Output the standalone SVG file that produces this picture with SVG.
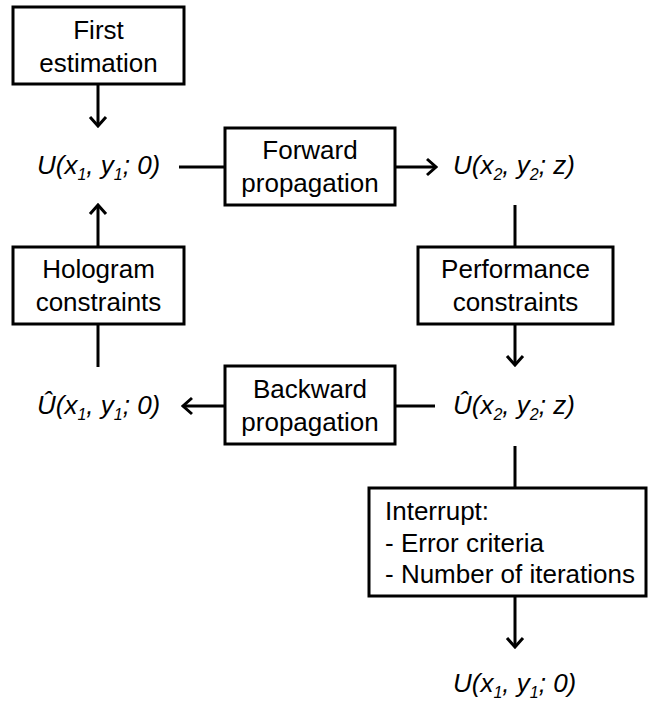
<svg xmlns="http://www.w3.org/2000/svg" width="648" height="704" viewBox="0 0 648 704">
<style>
.box{fill:#fff;stroke:#000;stroke-width:3}
.lbl{font-family:"Liberation Sans",Arial,sans-serif;font-size:26px;fill:#000;text-anchor:middle}
.lft{font-family:"Liberation Sans",Arial,sans-serif;font-size:26px;fill:#000}
.f{font-family:"Liberation Sans",Arial,sans-serif;font-size:26px;font-style:italic;fill:#000}
.s{font-size:16px}
.c{fill:none;stroke:#000;stroke-width:3}
</style>
<defs>
<marker id="ah" markerUnits="userSpaceOnUse" markerWidth="14" markerHeight="22" viewBox="-12 -11 14 22" refX="0" refY="0" orient="auto">
<path d="M-9,-8 L0,0 L-9,8" fill="none" stroke="#000" stroke-width="3"/>
</marker>
</defs>
<rect width="648" height="704" fill="#fff"/>
<g id="connectors">
<line class="c" x1="98" y1="84" x2="98" y2="126" marker-end="url(#ah)"/>
<line class="c" x1="179" y1="167" x2="225" y2="167"/>
<line class="c" x1="395" y1="167" x2="436" y2="167" marker-end="url(#ah)"/>
<line class="c" x1="515" y1="205" x2="515" y2="247"/>
<line class="c" x1="515" y1="324" x2="515" y2="365" marker-end="url(#ah)"/>
<line class="c" x1="435" y1="406" x2="395" y2="406"/>
<line class="c" x1="225" y1="406" x2="183" y2="406" marker-end="url(#ah)"/>
<line class="c" x1="98" y1="367" x2="98" y2="324"/>
<line class="c" x1="98" y1="247" x2="98" y2="205" marker-end="url(#ah)"/>
<line class="c" x1="515" y1="446" x2="515" y2="488"/>
<line class="c" x1="515" y1="596" x2="515" y2="647" marker-end="url(#ah)"/>
</g>
<g id="first-estimation">
<rect class="box" x="13" y="7" width="171" height="77"/>
<text class="lbl" x="98.5" y="39">First</text>
<text class="lbl" x="98.5" y="72">estimation</text>
</g>
<g id="u1">
<text class="f" x="37" y="174">U(x<tspan class="s" dy="6">1</tspan><tspan dy="-6">, y</tspan><tspan class="s" dy="6">1</tspan><tspan dy="-6">; 0)</tspan></text>
</g>
<g id="forward-propagation">
<rect class="box" x="225" y="128" width="170" height="77"/>
<text class="lbl" x="310" y="159">Forward</text>
<text class="lbl" x="310" y="192">propagation</text>
</g>
<g id="u2">
<text class="f" x="453" y="174">U(x<tspan class="s" dy="6">2</tspan><tspan dy="-6">, y</tspan><tspan class="s" dy="6">2</tspan><tspan dy="-6">; z)</tspan></text>
</g>
<g id="performance-constraints">
<rect class="box" x="418" y="247" width="195" height="77"/>
<text class="lbl" x="515.5" y="278">Performance</text>
<text class="lbl" x="515.5" y="311">constraints</text>
</g>
<g id="hologram-constraints">
<rect class="box" x="13" y="247" width="171" height="77"/>
<text class="lbl" x="98.5" y="278">Hologram</text>
<text class="lbl" x="98.5" y="311">constraints</text>
</g>
<g id="u2hat">
<text class="f" x="453" y="414">Û(x<tspan class="s" dy="6">2</tspan><tspan dy="-6">, y</tspan><tspan class="s" dy="6">2</tspan><tspan dy="-6">; z)</tspan></text>
</g>
<g id="backward-propagation">
<rect class="box" x="225" y="366" width="170" height="78"/>
<text class="lbl" x="310" y="397.5">Backward</text>
<text class="lbl" x="310" y="430.5">propagation</text>
</g>
<g id="u1hat">
<text class="f" x="37" y="414">Û(x<tspan class="s" dy="6">1</tspan><tspan dy="-6">, y</tspan><tspan class="s" dy="6">1</tspan><tspan dy="-6">; 0)</tspan></text>
</g>
<g id="interrupt">
<rect class="box" x="369" y="488" width="277" height="108"/>
<text class="lft" x="385" y="520">Interrupt:</text>
<text class="lft" x="385" y="552">- Error criteria</text>
<text class="lft" x="385" y="583">- Number of iterations</text>
</g>
<g id="u1-result">
<text class="f" x="453" y="692">U(x<tspan class="s" dy="6">1</tspan><tspan dy="-6">, y</tspan><tspan class="s" dy="6">1</tspan><tspan dy="-6">; 0)</tspan></text>
</g>
</svg>
